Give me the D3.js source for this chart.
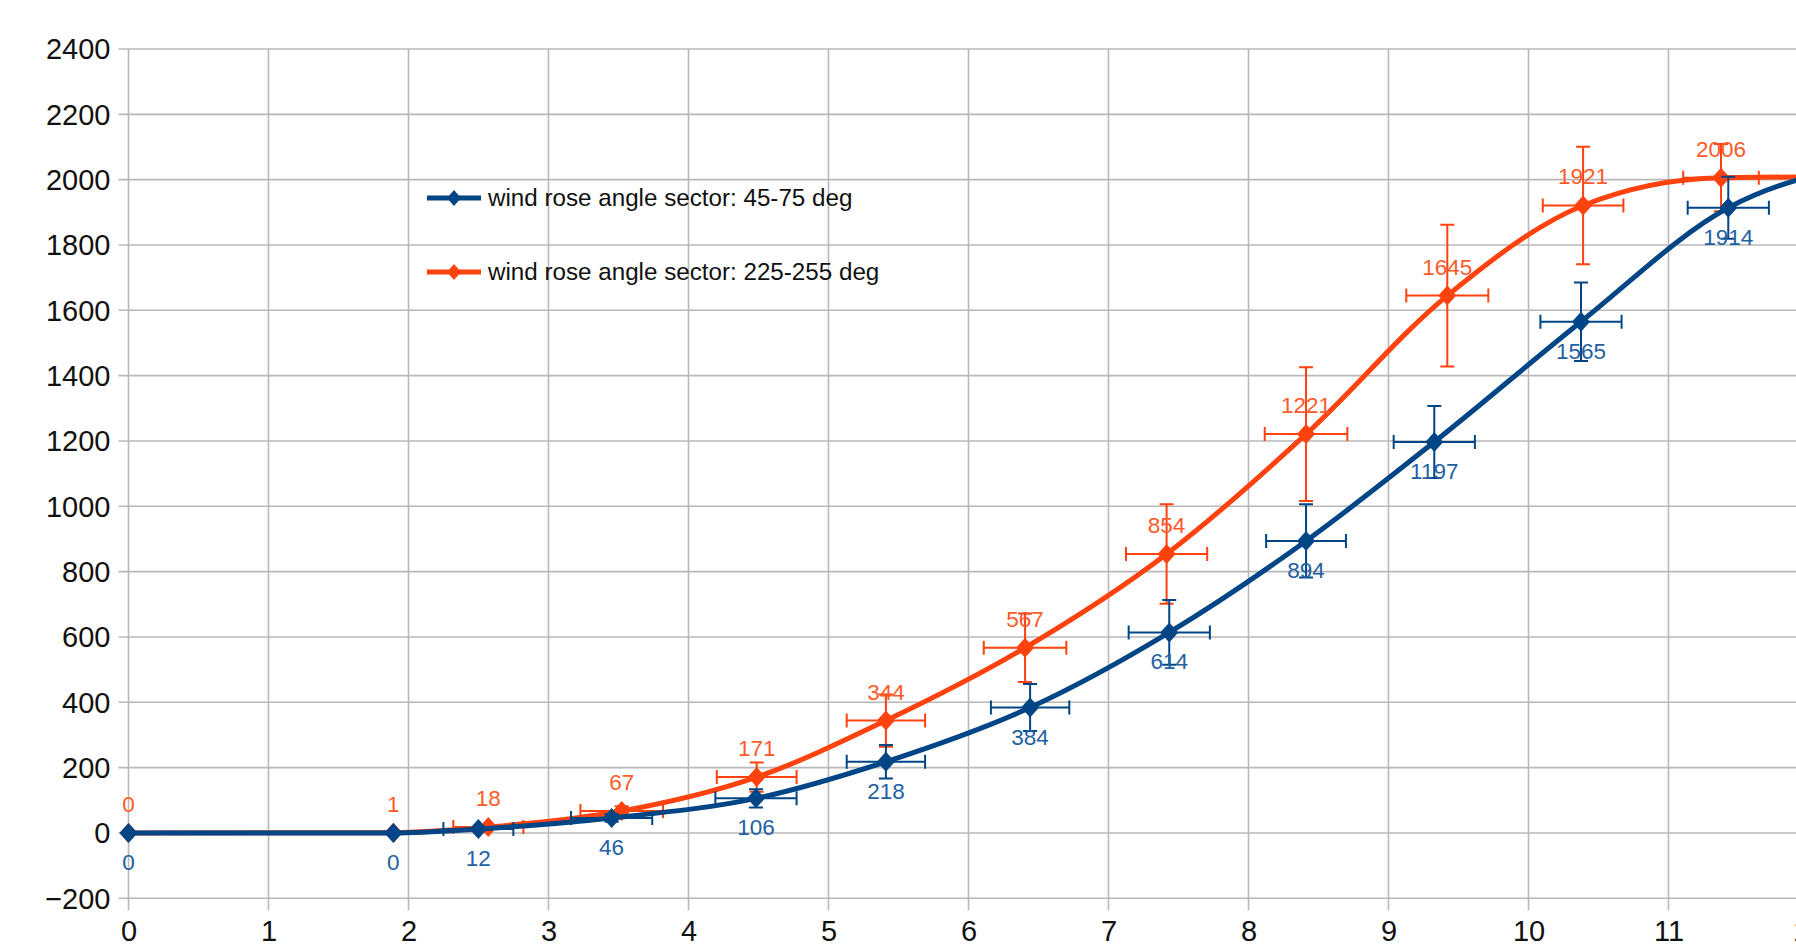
<!DOCTYPE html>
<html>
<head>
<meta charset="utf-8">
<script src="https://cdn.jsdelivr.net/npm/d3@7"></script>
<style>
  body { margin: 0; background: #fff; }
  svg { display: block; font-family: "Liberation Sans", Arial, sans-serif; }
</style>
</head>
<body>
<script>
// series 1: wind rose angle sector 45-75 deg
var xs45 = [0, 1.892, 2.499, 3.451, 4.482, 5.41, 6.44, 7.434, 8.411, 9.327, 10.375, 11.427, 12.42];
var ys45 = [0, 0, 12, 46, 106, 218, 384, 614, 894, 1197, 1565, 1914, 2050];
var xErr45 = [0, 0, 0.25, 0.29, 0.29, 0.28, 0.28, 0.29, 0.285, 0.29, 0.29, 0.29, 0.29];
var yErr45 = [0, 0, 4, 12, 28, 51, 72, 99, 112, 110, 120, 95, 95];

// series 2: wind rose angle sector 225-255 deg
var xs225 = [0, 1.892, 2.57, 3.523, 4.487, 5.41, 6.404, 7.415, 8.411, 9.42, 10.39, 11.375, 12.42];
var ys225 = [0, 1, 18, 67, 171, 344, 567, 854, 1221, 1645, 1921, 2006, 2010];
var xErr225 = [0, 0, 0.25, 0.295, 0.285, 0.28, 0.295, 0.29, 0.295, 0.293, 0.288, 0.27, 0.27];
var yErr225 = [0, 0, 5, 15, 45, 80, 105, 152, 205, 217, 180, 103, 103];

var seriesNames = ["wind rose angle sector: 45-75 deg", "wind rose angle sector: 225-255 deg"];
var seriesColors = ["#004586", "#ff420e"];
var labelColors = ["#2360a2", "#ff5a2a"];

var xTicks = d3.range(0, 13, 1);
var yTicks = d3.range(-200, 2401, 200);

var width = 1796,
    height = 946;

var svg = d3.select("body")
    .append("svg")
        .attr("width", width)
        .attr("height", height);

var x = d3.scaleLinear()
    .domain([0, 12])
    .range([128.5, 1808.5]);

var y = d3.scaleLinear()
    .domain([-200, 2400])
    .range([898.3, 49]);

// grid
svg.append("g")
    .selectAll("line")
    .data(yTicks)
    .enter()
    .append("line")
        .attr("x1", x(0) - 10)
        .attr("x2", width)
        .attr("y1", function(d) { return y(d); })
        .attr("y2", function(d) { return y(d); })
        .attr("stroke", "#b8b8b8")
        .attr("stroke-width", 1.6);

svg.append("g")
    .selectAll("line")
    .data(xTicks)
    .enter()
    .append("line")
        .attr("x1", function(d) { return x(d); })
        .attr("x2", function(d) { return x(d); })
        .attr("y1", y(2400))
        .attr("y2", y(-200) + 12)
        .attr("stroke", "#b8b8b8")
        .attr("stroke-width", 1.6);

// axis labels
var yAxis = svg.append("g")
    .attr("transform", "translate(" + (x(0) - 18) + ",0)")
    .call(d3.axisLeft(y).tickValues(yTicks).tickSize(0).tickPadding(0).tickFormat(d3.format("d")));
yAxis.select(".domain").remove();
yAxis.selectAll("text")
    .attr("dy", "0.34em")
    .style("font-size", "29px")
    .style("font-family", "Liberation Sans, Arial, sans-serif")
    .attr("fill", "#111");

var xAxis = svg.append("g")
    .attr("transform", "translate(0," + (y(-200) + 22) + ")")
    .call(d3.axisBottom(x).tickValues(xTicks).tickSize(0).tickPadding(0).tickFormat(d3.format("d")));
xAxis.select(".domain").remove();
xAxis.selectAll("text")
    .attr("dy", "0.71em")
    .style("font-size", "29px")
    .style("font-family", "Liberation Sans, Arial, sans-serif")
    .attr("fill", "#111");

function makeData(xs, ys, ex, ey) {
    var out = [];
    for (var i = 0; i < xs.length; i++) {
        out.push({x: xs[i], y: ys[i], ex: ex[i], ey: ey[i]});
    }
    return out;
}

var series = [
    makeData(xs45, ys45, xErr45, yErr45),
    makeData(xs225, ys225, xErr225, yErr225)
];

// points past the right edge only carry the line on
function inView(d) { return d.x <= 12; }

var line = d3.line()
    .x(function(d) { return x(d.x); })
    .y(function(d) { return y(d.y); })
    .curve(d3.curveMonotoneX);

function diamond(w, h) {
    return "M0," + (-h) + "L" + w + ",0L0," + h + "L" + (-w) + ",0Z";
}

// draw orange first, blue on top
[1, 0].forEach(function(s) {
    var data = series[s];
    var col = seriesColors[s];
    var g = svg.append("g");
    var eb = data.filter(function(d) { return inView(d) && (d.ex > 0 || d.ey > 0); });

    // error bars
    g.selectAll(".eh")
        .data(eb)
        .enter()
        .append("path")
            .attr("d", function(d) {
                var x0 = x(d.x - d.ex), x1 = x(d.x + d.ex), yy = y(d.y);
                return "M" + x0 + "," + yy + "H" + x1 +
                    "M" + x0 + "," + (yy - 7) + "V" + (yy + 7) +
                    "M" + x1 + "," + (yy - 7) + "V" + (yy + 7);
            })
            .attr("fill", "none")
            .attr("stroke", col)
            .attr("stroke-width", 2);

    g.selectAll(".ev")
        .data(eb.filter(function(d) { return d.ey > 0; }))
        .enter()
        .append("path")
            .attr("d", function(d) {
                var y0 = y(d.y + d.ey), y1 = y(d.y - d.ey), xx = x(d.x);
                return "M" + xx + "," + y0 + "V" + y1 +
                    "M" + (xx - 7) + "," + y0 + "H" + (xx + 7) +
                    "M" + (xx - 7) + "," + y1 + "H" + (xx + 7);
            })
            .attr("fill", "none")
            .attr("stroke", col)
            .attr("stroke-width", 2);

    g.append("path")
        .datum(data)
        .attr("d", line)
        .attr("fill", "none")
        .attr("stroke", col)
        .attr("stroke-width", 5)
        .attr("stroke-linejoin", "round");

    g.selectAll(".mk")
        .data(data.filter(inView))
        .enter()
        .append("path")
            .attr("transform", function(d) { return "translate(" + x(d.x) + "," + y(d.y) + ")"; })
            .attr("d", diamond(9, 10))
            .attr("fill", col);
});

// data labels: orange above, blue below
svg.append("g")
    .selectAll("text")
    .data(series[1].filter(inView))
    .enter()
    .append("text")
        .attr("x", function(d) { return x(d.x); })
        .attr("y", function(d) { return y(d.y) - 21; })
        .attr("text-anchor", "middle")
        .style("font-size", "22.5px")
        .attr("fill", labelColors[1])
        .text(function(d) { return d.y; });

svg.append("g")
    .selectAll("text")
    .data(series[0].filter(inView))
    .enter()
    .append("text")
        .attr("x", function(d) { return x(d.x); })
        .attr("y", function(d) { return y(d.y) + 37; })
        .attr("text-anchor", "middle")
        .style("font-size", "22.5px")
        .attr("fill", labelColors[0])
        .text(function(d) { return d.y; });

// legend
var legend = svg.selectAll(".legend")
    .data(seriesNames)
    .enter()
    .append("g")
        .attr("transform", function(d, i) { return "translate(427," + (198 + i * 74) + ")"; });

legend.append("line")
    .attr("x1", 0)
    .attr("x2", 54)
    .attr("stroke", function(d, i) { return seriesColors[i]; })
    .attr("stroke-width", 5);

legend.append("path")
    .attr("transform", "translate(27,0)")
    .attr("d", diamond(7, 8))
    .attr("fill", function(d, i) { return seriesColors[i]; });

legend.append("text")
    .attr("x", 61)
    .attr("y", 8)
    .style("font-size", "24.2px")
    .attr("fill", "#111")
    .text(function(d) { return d; });
</script>
</body>
</html>
